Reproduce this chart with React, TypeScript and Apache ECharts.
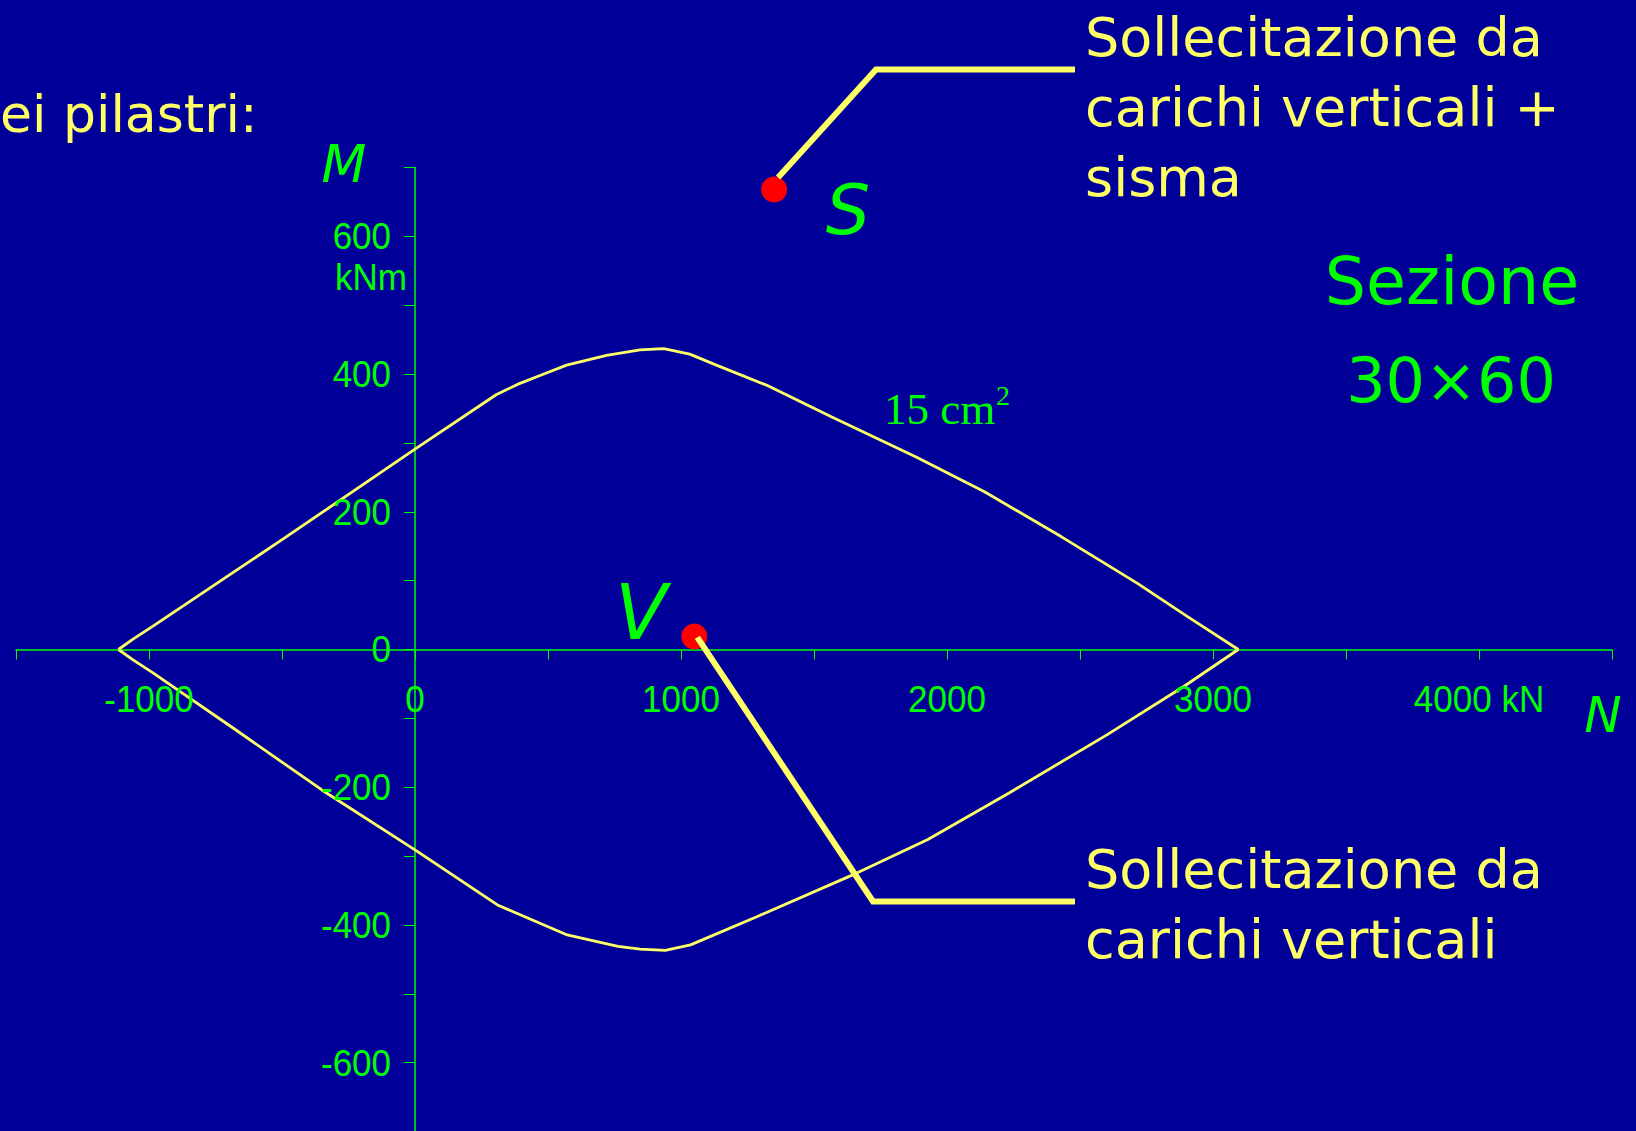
import React, { useEffect, useRef } from "react";
import * as echarts from "echarts";

// Interaction domain (N in kN, M in kNm), section 30x60, 15 cm2
const upperN = [-1115, -1060, -985, -490, 0, 305, 385, 470, 570, 720, 846, 935, 1033, 1133, 1321, 1565, 1882, 2141, 2429, 2716, 2903, 3095];
const upperM = [0, 15, 34, 162, 291, 370, 385, 398, 413, 427, 435, 437, 429, 413, 384, 338, 280, 229, 164, 96, 48, 0];
const lowerN = [3095, 2893, 2601, 2235, 1928, 1665, 1285, 1036, 941, 846, 763, 568, 310, 0, -350, -684, -985, -1060, -1115];
const lowerM = [0, -53, -124, -208, -276, -324, -388, -429, -437, -435, -431, -414, -371, -291, -204, -114, -34, -15, 0];

// Load points
const pointS = [1350, 668]; // carichi verticali + sisma
const pointV = [1050, 19]; // carichi verticali

const xLabelValues = [-1000, 0, 1000, 2000, 3000, 4000];
const xLabelTexts = ["-1000", "0", "1000", "2000", "3000", "4000 kN"];
const yLabelValues = [-600, -400, -200, 0, 200, 400, 600];

const BG = "#000099";
const GREEN = "#00FF00";
const YELLOW = "#FFFF66";
const RED = "#FF0000";
const SANS = '"Liberation Sans", Arial, sans-serif';
const SERIF = '"Liberation Serif", "Times New Roman", serif';
const LABEL_FONT = '"DejaVu Sans", sans-serif';

function txt(text: string, x: number, y: number, size: number, color: string, align: string, opts: any = {}) {
  return {
    type: "text",
    x,
    y,
    scaleY: opts.scaleY || 1,
    z: 100,
    style: {
      text,
      fill: color,
      fontSize: size,
      fontFamily: opts.family || LABEL_FONT,
      fontStyle: opts.italic ? "italic" : "normal",
      align,
      verticalAlign: "middle",
      textAlign: align,
      textVerticalAlign: "middle",
    },
  };
}

export default function App() {
  const ref = useRef<HTMLDivElement>(null);
  useEffect(() => {
    document.body.style.margin = "0";
    document.body.style.background = BG;
    const chart = echarts.init(ref.current!, null, { renderer: "svg" });
    const curve = upperN.map((n, i) => [n, upperM[i]]).concat(lowerN.map((n, i) => [n, lowerM[i]]));
    chart.setOption({
      animation: false,
      backgroundColor: BG,
      grid: { left: 16, top: 167.5, width: 1596, height: 964, containLabel: false, outerBoundsMode: "none" },
      xAxis: {
        type: "value",
        min: -1500,
        max: 4500,
        interval: 500,
        axisLine: { onZero: true, lineStyle: { color: GREEN, width: 1.5 } },
        axisTick: { show: true, length: 10, lineStyle: { color: GREEN, width: 1 } },
        splitLine: { show: false },
        axisLabel: { show: false },
      },
      yAxis: {
        type: "value",
        min: -700,
        max: 700,
        interval: 100,
        axisLine: { onZero: true, lineStyle: { color: GREEN, width: 1.5 } },
        axisTick: { show: true, length: 11, lineStyle: { color: GREEN, width: 1 } },
        splitLine: { show: false },
        axisLabel: { show: false },
      },
      series: [
        {
          type: "line",
          data: curve,
          showSymbol: false,
          symbol: "none",
          lineStyle: { color: YELLOW, width: 2.8 },
          z: 3,
        },
        {
          type: "scatter",
          data: [pointS, pointV],
          symbolSize: 26,
          itemStyle: { color: RED, opacity: 1 },
          z: 4,
        },
      ],
    });

    const toPx = (p: number[]) => chart.convertToPixel({ gridIndex: 0 }, p) as number[];
    const sPx = toPx(pointS);
    const vPx = toPx(pointV);

    const tickLabels: any[] = [];
    xLabelValues.forEach((v, i) => {
      const p = toPx([v, 0]);
      tickLabels.push(txt(xLabelTexts[i], p[0], p[1] + 50, 35, GREEN, "center", { family: SANS, scaleY: 1.08 }));
    });
    yLabelValues.forEach((v) => {
      const p = toPx([0, v]);
      tickLabels.push(txt(String(v), p[0] - 24, p[1], 35, GREEN, "right", { family: SANS, scaleY: 1.08 }));
    });

    chart.setOption({
      graphic: [
        ...tickLabels,
        {
          type: "polyline",
          z: 100,
          shape: { points: [[sPx[0] + 4, sPx[1] - 12], [876, 69.5], [1075, 69.5]] },
          style: { stroke: YELLOW, lineWidth: 6, fill: null },
        },
        {
          type: "polyline",
          z: 100,
          shape: { points: [[vPx[0] + 3, vPx[1] + 1], [873, 901.5], [1075, 901.5]] },
          style: { stroke: YELLOW, lineWidth: 6, fill: null },
        },
        txt("ei pilastri:", 0, 114, 52, YELLOW, "left"),
        txt("Sollecitazione da", 1085, 37, 54, YELLOW, "left"),
        txt("carichi verticali +", 1085, 107.5, 54, YELLOW, "left"),
        txt("sisma", 1085, 177.5, 54, YELLOW, "left"),
        txt("Sollecitazione da", 1085, 869, 54, YELLOW, "left"),
        txt("carichi verticali", 1085, 939, 54, YELLOW, "left"),
        txt("Sezione", 1452, 281, 65, GREEN, "center"),
        txt("30\u00D760", 1451, 380, 62, GREEN, "center"),
        txt("15 cm", 884, 409, 45, GREEN, "left", { family: SERIF }),
        txt("2", 996, 395, 28, GREEN, "left", { family: SERIF }),
        txt("kNm", 335, 277, 35, GREEN, "left", { family: SANS, scaleY: 1.08 }),
        txt("M", 344, 164, 52, GREEN, "center", { italic: true }),
        txt("S", 848, 209.5, 70, GREEN, "center", { italic: true }),
        txt("V", 641, 612, 76, GREEN, "center", { italic: true }),
        txt("N", 1603, 714.5, 50, GREEN, "center", { italic: true }),
      ],
    });

    return () => chart.dispose();
  }, []);
  return (
    <div
      ref={ref}
      style={{ position: "fixed", left: 0, top: 0, width: 1636, height: 1131, background: BG }}
    />
  );
}
